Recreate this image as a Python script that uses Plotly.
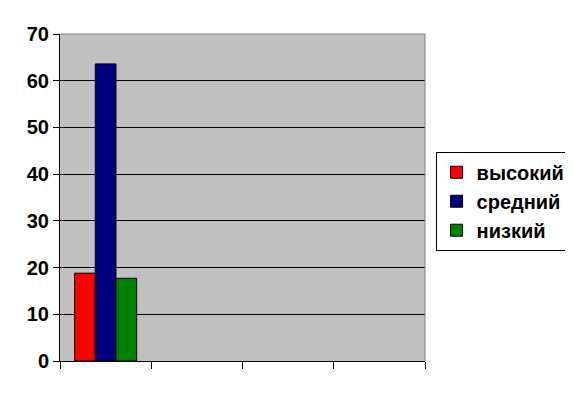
import plotly.graph_objects as go

categories = ["1", "2", "3", "4"]
series_names = ["высокий", "средний", "низкий"]
vysokiy = [18.8, None, None, None]
sredniy = [63.6, None, None, None]
nizkiy = [17.7, None, None, None]
colors = ["#FF0000", "#000080", "#008000"]
y_ticks = [0, 10, 20, 30, 40, 50, 60, 70]

fig = go.Figure()
for name, vals, col in zip(series_names, [vysokiy, sredniy, nizkiy], colors):
    fig.add_trace(go.Bar(x=categories, y=vals, name=name,
                         marker=dict(color=col, line=dict(color="black", width=1))))

fig.update_layout(
    width=573, height=393,
    margin=dict(l=52, r=156, t=26, b=40, autoexpand=False),
    paper_bgcolor="white", plot_bgcolor="#C0C0C0",
    barmode="group", bargap=0.32, bargroupgap=0,
    font=dict(family="Liberation Sans, Arial", size=20, color="black"),
    showlegend=True,
    legend=dict(x=1.029, y=0.64, xanchor="left", yanchor="top",
                bgcolor="white", bordercolor="black", borderwidth=1,
                font=dict(family="Liberation Sans, Arial", size=20, color="black", weight="bold")),
    xaxis=dict(type="category", showticklabels=False, tickson="boundaries",
               ticks="outside", ticklen=7, tickcolor="black", tickwidth=1,
               showline=True, linecolor="black", linewidth=1, showgrid=False, zeroline=False),
    yaxis=dict(range=[0, 70], tickvals=y_ticks, ticks="outside", ticklen=6,
               tickcolor="black", showline=True, linecolor="black", linewidth=1,
               showgrid=True, gridcolor="black", gridwidth=1, zeroline=False,
               tickfont=dict(family="Liberation Sans, Arial", size=20, color="black", weight="bold")),
    shapes=[
        dict(type="line", xref="paper", yref="paper", x0=0, x1=1, y0=1, y1=1,
             line=dict(color="#808080", width=1)),
        dict(type="line", xref="paper", yref="paper", x0=1, x1=1, y0=0, y1=1,
             line=dict(color="#808080", width=1)),
    ],
)

fig.write_html("out.html")
